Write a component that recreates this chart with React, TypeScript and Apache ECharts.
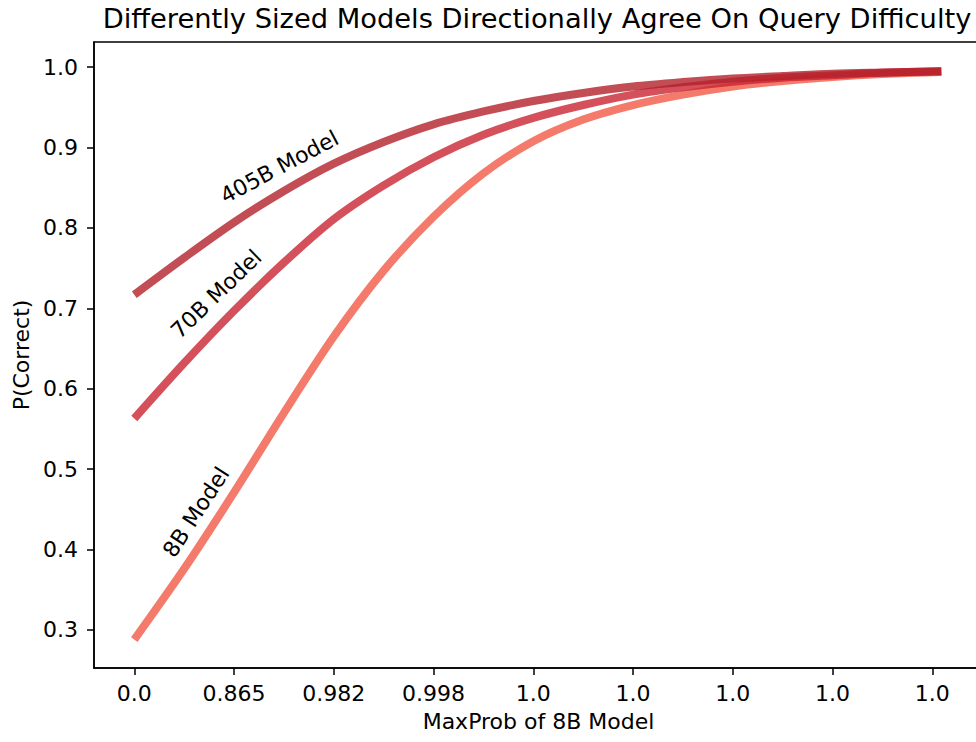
import React, { useEffect, useRef } from "react";
import * as echarts from "echarts";

const titleText = "Differently Sized Models Directionally Agree On Query Difficulty";
const xTickPositions = [0, 1, 2, 3, 4, 5, 6, 7, 8];
const xTickLabels = ["0.0", "0.865", "0.982", "0.998", "1.0", "1.0", "1.0", "1.0", "1.0"];
const yTickValues = [0.3, 0.4, 0.5, 0.6, 0.7, 0.8, 0.9, 1.0];

const xSamples = [0, 0.5, 1, 1.5, 2, 2.5, 3, 3.5, 4, 4.5, 5, 5.5, 6, 6.5, 7, 7.5, 8.09];
const p405B = [0.717, 0.763, 0.807, 0.846, 0.88, 0.907, 0.929, 0.945, 0.958, 0.968, 0.976, 0.9815, 0.986, 0.989, 0.992, 0.9935, 0.995];
const p70B = [0.563, 0.632, 0.697, 0.757, 0.811, 0.853, 0.888, 0.916, 0.937, 0.953, 0.966, 0.975, 0.982, 0.987, 0.99, 0.993, 0.995];
const p8B = [0.288, 0.376, 0.471, 0.57, 0.665, 0.747, 0.814, 0.868, 0.908, 0.935, 0.953, 0.966, 0.976, 0.983, 0.988, 0.9915, 0.994];

const seriesNames = ["8B Model", "70B Model", "405B Model"];
const seriesColors = ["#f15a46", "#c92431", "#b3212a"];
// label anchor (data coords) and rotation, one per series
const labelX = [0.62, 0.822, 1.454];
const labelY = [0.4465, 0.718, 0.876];
const labelRotate = [57, 44, 28];

const FONT = "DejaVu Sans";

export default function App() {
  const ref = useRef<HTMLDivElement>(null);
  useEffect(() => {
    if (!ref.current) return;
    const chart = echarts.init(ref.current, undefined, { renderer: "svg" });
    const values = [p8B, p70B, p405B];
    const series = values.map((vals, i) => ({
      type: "line",
      name: seriesNames[i],
      data: xSamples.map((x, j) => [x, vals[j]]),
      showSymbol: false,
      smooth: 0.3,
      lineStyle: { width: 8, color: seriesColors[i], opacity: 0.8, cap: "butt" },
      itemStyle: { color: seriesColors[i] },
      z: 2 + i,
      markPoint: {
        symbol: "circle",
        symbolSize: 0,
        silent: true,
        data: [
          {
            coord: [labelX[i], labelY[i]],
            label: {
              show: true,
              position: "inside",
              formatter: seriesNames[i],
              rotate: labelRotate[i],
              color: "#000",
              fontFamily: FONT,
              fontSize: 22,
            },
          },
        ],
      },
    }));
    chart.setOption({
      animation: false,
      title: {
        text: titleText,
        left: 532,
        textAlign: "center",
        top: 0,
        textStyle: { fontFamily: FONT, fontSize: 27.3, fontWeight: "normal", color: "#000" },
      },
      grid: {
        left: 94,
        top: 42,
        width: 889,
        height: 626,
        show: true,
        borderColor: "#000",
        borderWidth: 1.5,
        containLabel: false,
        outerBoundsMode: "none",
      },
      xAxis: {
        type: "value",
        min: -0.404,
        max: 8.508,
        name: "MaxProb of 8B Model",
        nameLocation: "middle",
        nameGap: 42,
        nameTextStyle: { fontFamily: FONT, fontSize: 22, color: "#000" },
        axisLine: { show: true, onZero: false, lineStyle: { color: "#000", width: 1.5 } },
        axisTick: { show: true, length: 7, lineStyle: { color: "#000", width: 1.5 }, customValues: xTickPositions },
        axisLabel: {
          customValues: xTickPositions,
          formatter: (v: number) => xTickLabels[Math.round(v)],
          fontFamily: FONT,
          fontSize: 22,
          color: "#000",
          margin: 14,
          hideOverlap: false,
        },
        splitLine: { show: false },
      },
      yAxis: {
        type: "value",
        min: 0.2526,
        max: 1.0314,
        name: "P(Correct)",
        nameLocation: "middle",
        nameGap: 60,
        nameTextStyle: { fontFamily: FONT, fontSize: 22, color: "#000" },
        axisLine: { show: true, onZero: false, lineStyle: { color: "#000", width: 1.5 } },
        axisTick: { show: true, length: 7, lineStyle: { color: "#000", width: 1.5 }, customValues: yTickValues },
        axisLabel: {
          customValues: yTickValues,
          formatter: (v: number) => v.toFixed(1),
          fontFamily: FONT,
          fontSize: 22,
          color: "#000",
          margin: 16,
        },
        splitLine: { show: false },
      },
      series,
    });
    return () => chart.dispose();
  }, []);
  return (
    <div
      ref={ref}
      style={{ position: "fixed", left: 0, top: 0, width: 976, height: 742, background: "#fff" }}
    />
  );
}
